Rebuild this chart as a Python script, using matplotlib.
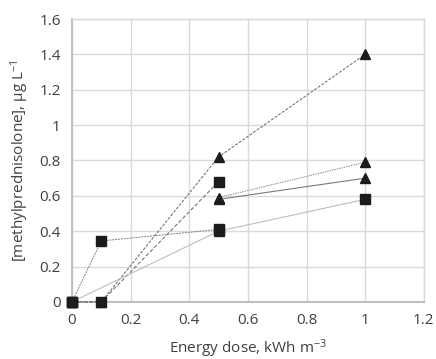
import matplotlib
matplotlib.use('Agg')
import matplotlib.pyplot as plt

plt.rcParams['font.family'] = ['Open Sans', 'DejaVu Sans']
plt.rcParams['mathtext.default'] = 'regular'

# energy dose (kWh m-3) / concentration (ug L-1), one list pair per series
tri_a_x = [0, 0.1, 0.5, 1]
tri_a_y = [0, 0, 0.82, 1.40]
sq_a_x = [0, 0.1, 0.5]
sq_a_y = [0, 0, 0.68]
sq_b_x = [0, 0.1, 0.5]
sq_b_y = [0, 0.345, 0.41]
sq_c_x = [0, 0.5, 1]
sq_c_y = [0, 0.40, 0.58]
tri_b_x = [0.5, 1]
tri_b_y = [0.59, 0.79]
tri_c_x = [0.5, 1]
tri_c_y = [0.58, 0.70]

xticks = [0, 0.2, 0.4, 0.6, 0.8, 1, 1.2]
yticks = [0, 0.2, 0.4, 0.6, 0.8, 1, 1.2, 1.4, 1.6]

fig = plt.figure(figsize=(4.36, 3.59), dpi=100)
ax = fig.add_axes([0.165, 0.159, 0.807, 0.788])

mk = '#1c1c1c'
kw = dict(mfc=mk, mec=mk, zorder=3, clip_on=False)
ax.plot(tri_a_x, tri_a_y, color='#666666', lw=0.7, ls=(0, (3, 1.5)), marker='^', ms=7, **kw)
ax.plot(sq_a_x, sq_a_y, color='#666666', lw=0.7, ls=(0, (4, 2)), marker='s', ms=6.5, **kw)
ax.plot(sq_b_x, sq_b_y, color='#808080', lw=0.7, ls=(0, (2, 1)), marker='s', ms=6.5, **kw)
ax.plot(sq_c_x, sq_c_y, color='#bdbdbd', lw=0.8, ls='-', marker='s', ms=6.5, **kw)
ax.plot(tri_b_x, tri_b_y, color='#8a8a8a', lw=0.7, ls=(0, (1.5, 1)), marker='^', ms=7, **kw)
ax.plot(tri_c_x, tri_c_y, color='#7a7a7a', lw=0.8, ls='-', marker='^', ms=7, **kw)

ax.set_xlim(0, 1.2)
ax.set_ylim(0, 1.6)
ax.set_xticks(xticks)
ax.set_yticks(yticks)
ax.set_xticklabels(['0', '0.2', '0.4', '0.6', '0.8', '1', '1.2'])
ax.set_yticklabels(['0', '0.2', '0.4', '0.6', '0.8', '1', '1.2', '1.4', '1.6'])
ax.tick_params(length=0, labelsize=11, colors='#404040', pad=8)
ax.grid(True, color='#d9d9d9', lw=1)
ax.set_axisbelow(True)
for s in ['top', 'right']:
    ax.spines[s].set_color('#d9d9d9')
    ax.spines[s].set_linewidth(1)
for s in ['left', 'bottom']:
    ax.spines[s].set_color('#bfbfbf')
    ax.spines[s].set_linewidth(1.5)

ax.set_xlabel('Energy dose, kWh m$^{-3}$', fontsize=11, color='#404040', labelpad=7)
ax.set_ylabel('[methylprednisolone], μg L$^{-1}$', fontsize=11, color='#404040', labelpad=6)

fig.savefig('out.png', dpi=100)
